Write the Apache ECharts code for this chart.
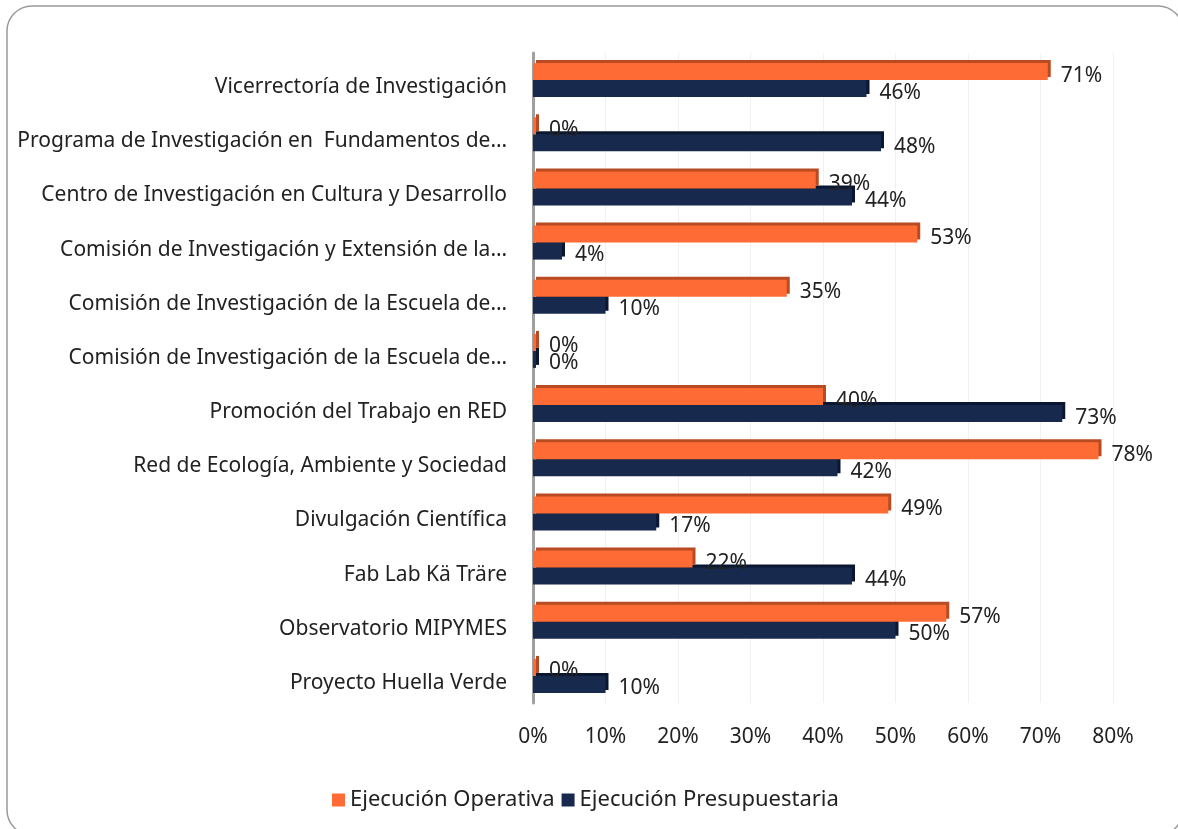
<!DOCTYPE html>
<html>
<head>
<meta charset="utf-8">
<script src="https://cdn.jsdelivr.net/npm/echarts@6/dist/echarts.min.js"></script>
<style>
  html, body { margin: 0; padding: 0; background: #fff; }
  #main { width: 1178px; height: 829px; }
</style>
</head>
<body>
<div id="main"></div>
<script>
// categorías (de arriba hacia abajo)
const categorias = [
  'Vicerrectoría de Investigación',
  'Programa de Investigación en  Fundamentos de…',
  'Centro de Investigación en Cultura y Desarrollo',
  'Comisión de Investigación y Extensión de la…',
  'Comisión de Investigación de la Escuela de…',
  'Comisión de Investigación de la Escuela de…',
  'Promoción del Trabajo en RED',
  'Red de Ecología, Ambiente y Sociedad',
  'Divulgación Científica',
  'Fab Lab Kä Träre',
  'Observatorio MIPYMES',
  'Proyecto Huella Verde'
];
// valores en %
const ejecucionOperativa = [71, 0, 39, 53, 35, 0, 40, 78, 49, 22, 57, 0];
const ejecucionPresupuestaria = [46, 48, 44, 4, 10, 0, 73, 42, 17, 44, 50, 10];
const nombresSeries = ['Ejecución Operativa', 'Ejecución Presupuestaria'];

const fuente = 'Noto Sans';
const myChart = echarts.init(document.getElementById('main'));

// marcas intermedias del eje (cada media categoría)
const marcas = [];
categorias.forEach((c, i) => { marcas.push('a' + i, 'b' + i); });

const etiqueta = {
  show: true,
  position: 'right',
  distance: 13,
  offset: [0, 4],
  formatter: '{c}%',
  fontFamily: fuente,
  fontSize: 21,
  color: '#222'
};

const options = {
  backgroundColor: '#fff',
  animation: false,
  // marco redondeado
  graphic: [{
    type: 'rect',
    shape: { x: 7, y: 6, width: 1176, height: 829, r: 25 },
    style: { fill: 'none', stroke: '#9a9a9a', lineWidth: 1.5 },
    silent: true
  }],
  grid: {
    left: 533,
    right: 65,
    top: 53,
    bottom: 126
  },
  legend: {
    left: 327,
    top: 784,
    itemWidth: 13,
    itemHeight: 13,
    itemGap: 7,
    icon: 'rect',
    textStyle: { fontFamily: fuente, fontSize: 22, color: '#222' },
    data: nombresSeries
  },
  xAxis: {
    type: 'value',
    min: 0,
    max: 80,
    interval: 10,
    axisLine: { show: false },
    axisTick: { show: false },
    splitLine: { lineStyle: { color: '#f1f1f1', width: 1 } },
    axisLabel: {
      formatter: '{value}%',
      margin: 24,
      fontFamily: fuente,
      fontSize: 21,
      color: '#222'
    }
  },
  yAxis: [
    {
      type: 'category',
      inverse: true,
      data: categorias,
      offset: 3,
      axisLine: { lineStyle: { color: '#a0a0a0', width: 3 } },
      axisTick: { length: 8, lineStyle: { color: '#999', width: 2 } },
      axisLabel: {
        margin: 23,
        verticalAlign: 'top',
        lineHeight: 14,
        fontFamily: fuente,
        fontSize: 21,
        color: '#222'
      }
    },
    {
      type: 'category',
      inverse: true,
      position: 'left',
      data: marcas,
      offset: 3,
      axisLine: { show: false },
      axisTick: { length: 8, lineStyle: { color: '#999', width: 2 } },
      axisLabel: { show: false },
      splitLine: { show: false }
    }
  ],
  series: [
    {
      name: nombresSeries[0],
      type: 'bar',
      z: 3,
      barWidth: 17,
      barGap: '0%',
      barMinHeight: 3,
      itemStyle: {
        color: '#FF6B35',
        shadowColor: '#B94B22',
        shadowOffsetX: 3,
        shadowOffsetY: -3,
        shadowBlur: 0
      },
      label: etiqueta,
      data: ejecucionOperativa
    },
    {
      name: nombresSeries[1],
      type: 'bar',
      z: 2,
      barWidth: 17,
      barGap: '0%',
      barMinHeight: 3,
      itemStyle: {
        color: '#172A4E',
        shadowColor: '#0B1730',
        shadowOffsetX: 3,
        shadowOffsetY: -3,
        shadowBlur: 0
      },
      label: etiqueta,
      data: ejecucionPresupuestaria
    }
  ]
};
myChart.setOption(options);
</script>
</body>
</html>
